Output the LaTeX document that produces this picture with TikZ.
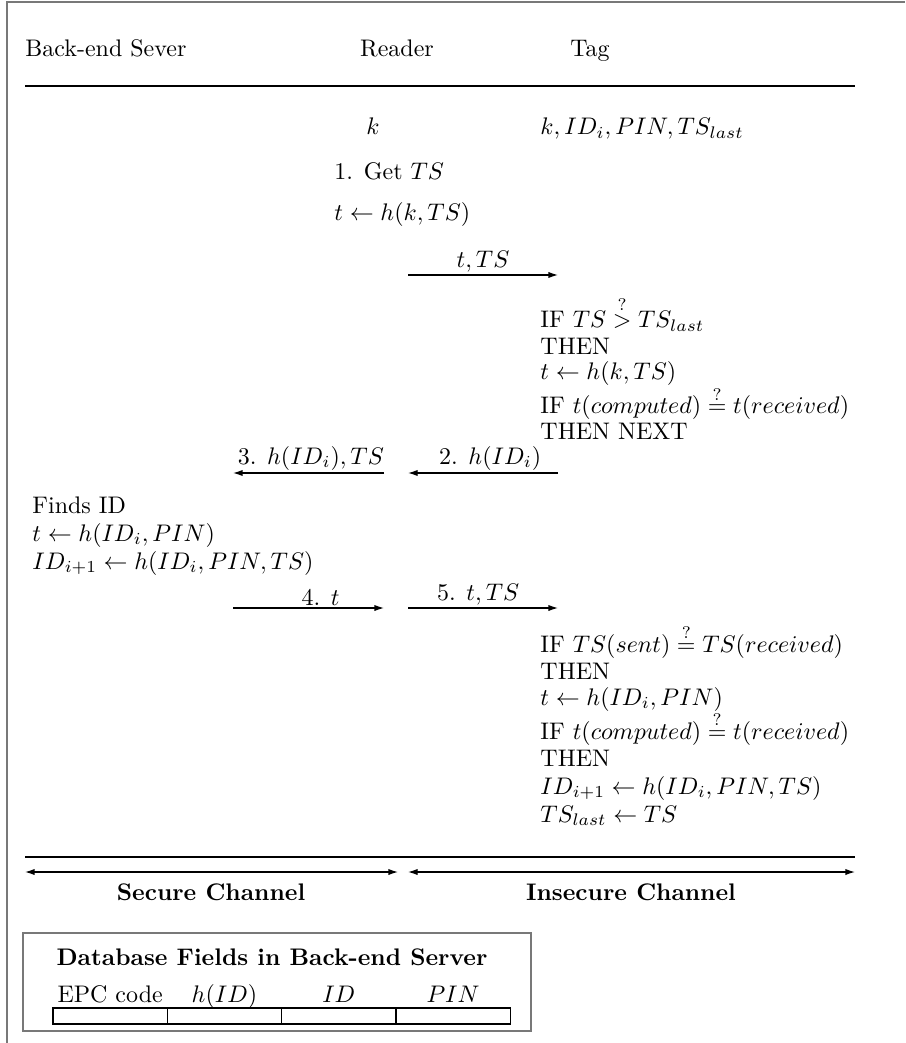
\documentclass[tikz,border=0pt]{standalone}
\usepackage{amsmath}
\usepackage{tikz}
\usetikzlibrary{arrows.meta}
\definecolor{framegray}{RGB}{120,120,120}

\begin{document}
\begin{tikzpicture}[
  x=0.417pt, y=-0.417pt,
  txt/.style={anchor=base west, inner sep=0pt},
  hdr/.style={anchor=base, inner sep=0pt},
  msg/.style={-{Latex[length=4pt,width=2.6pt]}, line width=0.5pt},
  both/.style={{Latex[length=4pt,width=2.6pt]}-{Latex[length=4pt,width=2.6pt]}, line width=0.5pt},
  lbl/.style={above, inner sep=1pt},
  rule/.style={line width=0.45pt},
  dbbox/.style={draw=framegray, line width=0.6pt, minimum width=211.8pt, minimum height=40.9pt, inner sep=0pt},
  cell/.style={draw, line width=0.5pt, minimum width=47.7pt, minimum height=6.7pt, inner sep=0pt}
]
\useasboundingbox (0,0) rectangle (905,1043);

% Outer frame
\coordinate (frameB) at (7,1043);
\coordinate (frameC) at (7,2);
\coordinate (frameR) at (905,2);
\draw[framegray, line width=0.6pt] (frameB) -- (frameC) -- (frameR);

% Header
\node[txt] (server) at (25,57)  {Back-end Sever};
\node[hdr] (reader) at (397,57) {Reader};
\node[hdr] (tag)    at (590,57) {Tag};
\coordinate (topL) at (25,86);
\coordinate (topR) at (855,86);
\draw[rule] (topL) -- (topR);

% Shared secrets
\node[hdr] (rk)  at (373,135) {$k$};
\node[txt] (tk)  at (540,135) {$k, ID_i, PIN, TS_{last}$};

% Reader steps
\node[txt] (rd1) at (334,180) {1. Get $TS$};
\node[txt] (rd2) at (334,221) {$t \leftarrow h(k,TS)$};

% Message t,TS
\coordinate (m1s) at (408,275);
\coordinate (m1e) at (558,275);
\draw[msg] (m1s) -- node[lbl] (m1l) {$t, TS$} (m1e);

% Tag checks (first pass)
\node[txt] (ta1) at (540,328) {IF $TS \stackrel{?}{>} TS_{last}$};
\node[txt] (ta2) at (540,355) {THEN};
\node[txt] (ta3) at (540,380) {$t \leftarrow h(k,TS)$};
\node[txt] (ta4) at (540,414) {IF $t(computed) \stackrel{?}{=} t(received)$};
\node[txt] (ta5) at (540,439) {THEN NEXT};

% Messages 2 and 3
\coordinate (m2s) at (558,473);
\coordinate (m2e) at (408,473);
\coordinate (m3s) at (384,473);
\coordinate (m3e) at (233,473);
\draw[msg] (m2s) -- node[lbl, xshift=3pt] (m2l) {2. $h(ID_i)$} (m2e);
\draw[msg] (m3s) -- node[lbl, xshift=1pt] (m3l) {3. $h(ID_i), TS$} (m3e);

% Server side
\node[txt] (sv1) at (32,513) {Finds ID};
\node[txt] (sv2) at (32,541) {$t \leftarrow h(ID_i, PIN)$};
\node[txt] (sv3) at (32,569) {$ID_{i+1} \leftarrow h(ID_i, PIN, TS)$};

% Messages 4 and 5
\coordinate (m4s) at (233,608);
\coordinate (m4e) at (384,608);
\coordinate (m5s) at (408,608);
\coordinate (m5e) at (558,608);
\draw[msg] (m4s) -- node[lbl, xshift=5pt] (m4l) {4. $t$} (m4e);
\draw[msg] (m5s) -- node[lbl, xshift=-2pt] (m5l) {5. $t, TS$} (m5e);

% Tag checks (second pass)
\node[txt] (tb1) at (540,652) {IF $TS(sent) \stackrel{?}{=} TS(received)$};
\node[txt] (tb2) at (540,679) {THEN};
\node[txt] (tb3) at (540,705) {$t \leftarrow h(ID_i, PIN)$};
\node[txt] (tb4) at (540,739) {IF $t(computed) \stackrel{?}{=} t(received)$};
\node[txt] (tb5) at (540,766) {THEN};
\node[txt] (tb6) at (540,794) {$ID_{i+1} \leftarrow h(ID_i, PIN, TS)$};
\node[txt] (tb7) at (540,822) {$TS_{last} \leftarrow TS$};

% Channels
\coordinate (botL) at (25,857);
\coordinate (botR) at (855,857);
\draw[rule] (botL) -- (botR);
\coordinate (secL) at (25,872);
\coordinate (secR) at (398,872);
\coordinate (insL) at (408,872);
\coordinate (insR) at (855,872);
\draw[both] (secL) -- (secR);
\draw[both] (insL) -- (insR);
\node[hdr, font=\bfseries] (secure)   at (211,900) {Secure Channel};
\node[hdr, font=\bfseries] (insecure) at (631,900) {Insecure Channel};

% Database fields
\node[dbbox] (db) at (277,982) {};
\node[hdr, font=\bfseries] (dbtitle) at (272,965) {Database Fields in Back-end Server};
\foreach \lab [count=\i from 0] in {EPC code, $h(ID)$, $ID$, $PIN$} {
  \node[cell] (fld\i) at ({110.15+114.3*\i},1016) {};
  \node[hdr] (fldlab\i) at ({110.15+114.3*\i},1002) {\lab};
}

\end{tikzpicture}
\end{document}
